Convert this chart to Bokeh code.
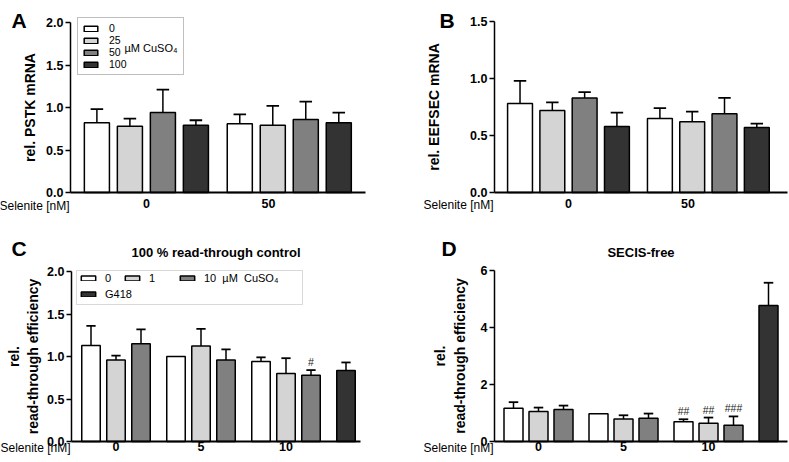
from bokeh.plotting import figure
from bokeh.models import (ColumnDataSource, Label, Legend, LegendItem, FixedTicker,
                          NumeralTickFormatter, Range1d, BoxAnnotation)
from bokeh.layouts import column, row
from bokeh.embed import file_html
from bokeh.resources import INLINE
from bokeh.core.properties import value

FONT = "Liberation Sans"

# ---------------- data ----------------
# Panel A: rel. PSTK mRNA (series = µM CuSO4, values per selenite group)
ab_selenite = ["0", "50"]
ab_cuso4 = ["0", "25", "50", "100"]
pstk_mean = {"0": [0.82, 0.81], "25": [0.78, 0.79], "50": [0.94, 0.86], "100": [0.79, 0.82]}
pstk_sd = {"0": [0.16, 0.11], "25": [0.09, 0.23], "50": [0.27, 0.21], "100": [0.06, 0.12]}
# Panel B: rel. EEFSEC mRNA
eefsec_mean = {"0": [0.78, 0.65], "25": [0.72, 0.62], "50": [0.83, 0.69], "100": [0.58, 0.57]}
eefsec_sd = {"0": [0.20, 0.09], "25": [0.07, 0.09], "50": [0.05, 0.14], "100": [0.12, 0.035]}
# Panel C: 100 % read-through control
cd_selenite = ["0", "5", "10"]
cd_cuso4 = ["0", "1", "10"]
ctrl_mean = {"0": [1.13, 1.00, 0.94], "1": [0.96, 1.125, 0.80], "10": [1.15, 0.96, 0.78]}
ctrl_sd = {"0": [0.23, 0.0, 0.05], "1": [0.05, 0.20, 0.18], "10": [0.17, 0.125, 0.06]}
ctrl_sig = {"0": ["", "", ""], "1": ["", "", ""], "10": ["", "", "#"]}
ctrl_g418_mean = [0.835]
ctrl_g418_sd = [0.095]
# Panel D: SECIS-free
secis_mean = {"0": [1.17, 0.97, 0.69], "1": [1.05, 0.79, 0.64], "10": [1.12, 0.82, 0.57]}
secis_sd = {"0": [0.21, 0.0, 0.09], "1": [0.14, 0.13, 0.20], "10": [0.14, 0.16, 0.31]}
secis_sig = {"0": ["", "", "##"], "1": ["", "", "##"], "10": ["", "", "###"]}
secis_g418_mean = [4.77]
secis_g418_sd = [0.80]

a_yticks = [0, 0.5, 1.0, 1.5, 2.0]
b_yticks = [0, 0.5, 1.0, 1.5]
c_yticks = [0, 0.5, 1.0, 1.5, 2.0]
d_yticks = [0, 2, 4, 6]

fills4 = ["#ffffff", "#d4d4d4", "#808080", "#333333"]
g418_fill = "#333333"


# ---------------- helpers ----------------
class Geo:
    def __init__(self, fw, fh, axl, axr, axt, axb, xlim, ymax):
        self.fw, self.fh = fw, fh
        self.ppx = (axr - axl) / (xlim[1] - xlim[0])
        self.ppy = (axb - axt) / ymax
        self.x_start = xlim[0] - axl / self.ppx
        self.x_end = xlim[0] + (fw - axl) / self.ppx
        self.y_start = -(fh - axb) / self.ppy
        self.y_end = ymax + axt / self.ppy
        self.xlim, self.ymax = xlim, ymax

    def dx(self, px):
        return self.x_start + px / self.ppx

    def dy(self, py):
        return self.y_end - py / self.ppy


def make_fig(g):
    p = figure(width=g.fw, height=g.fh,
               x_range=Range1d(g.x_start, g.x_end), y_range=Range1d(g.y_start, g.y_end),
               output_backend="svg", toolbar_location=None,
               min_border=0, min_border_left=0, min_border_right=0,
               min_border_top=0, min_border_bottom=0)
    p.outline_line_color = None
    p.xgrid.visible = False
    p.ygrid.visible = False
    p.background_fill_color = "white"
    p.border_fill_color = "white"
    p.title.text = ""
    p.title.visible = False
    return p


def style_axes(p, g, yticks, yfmt, xticks, xlabels, ylabel, ylab_standoff, xlab_standoff):
    ya = p.yaxis[0]
    ya.fixed_location = g.xlim[0]
    ya.bounds = (0, g.ymax)
    ya.ticker = FixedTicker(ticks=yticks)
    ya.formatter = NumeralTickFormatter(format=yfmt)
    ya.major_label_text_font = FONT
    ya.major_label_text_font_style = "bold"
    ya.major_label_text_font_size = "12.5px"
    ya.major_label_text_color = "black"
    ya.major_label_standoff = 2
    ya.major_tick_out = 5
    ya.major_tick_in = 0
    ya.major_tick_line_width = 1.5
    ya.major_tick_line_color = "black"
    ya.minor_tick_out = 0
    ya.minor_tick_in = 0
    ya.axis_line_width = 1.5
    ya.axis_line_color = "black"
    ya.axis_label = ylabel
    ya.axis_label_text_font = FONT
    ya.axis_label_text_font_style = "bold"
    ya.axis_label_text_font_size = "14px"
    ya.axis_label_text_color = "black"
    ya.axis_label_standoff = ylab_standoff

    xa = p.xaxis[0]
    xa.fixed_location = 0
    xa.bounds = g.xlim
    xa.ticker = FixedTicker(ticks=xticks)
    xa.major_label_overrides = {t: l for t, l in zip(xticks, xlabels)}
    xa.major_label_text_font = FONT
    xa.major_label_text_font_style = "bold"
    xa.major_label_text_font_size = "12.5px"
    xa.major_label_text_color = "black"
    xa.major_label_standoff = xlab_standoff
    xa.major_tick_out = 0
    xa.major_tick_in = 0
    xa.minor_tick_out = 0
    xa.minor_tick_in = 0
    xa.axis_line_width = 2
    xa.axis_line_color = "black"


def add_series(p, xs, means, sds, fill, bw, sig=None):
    src = ColumnDataSource(dict(x=xs, top=means))
    r = p.vbar(x="x", top="top", width=bw, bottom=0, fill_color=fill,
               line_color="black", line_width=1.5, source=src)
    ex, ey0, ey1 = [], [], []
    for x, m, s in zip(xs, means, sds):
        if s > 0:
            ex.append(x)
            ey0.append(m)
            ey1.append(m + s)
    cap = bw * 0.25
    esrc = ColumnDataSource(dict(x=ex, y0=ey0, y1=ey1,
                                 xl=[x - cap for x in ex], xr=[x + cap for x in ex]))
    p.segment(x0="x", y0="y0", x1="x", y1="y1", line_color="black", line_width=1.5, source=esrc)
    p.segment(x0="xl", y0="y1", x1="xr", y1="y1", line_color="black", line_width=1.8, source=esrc)
    if sig is not None:
        tx, ty, tt = [], [], []
        for x, m, s, t in zip(xs, means, sds, sig):
            if t:
                tx.append(x)
                ty.append(m + s)
                tt.append(t)
        tsrc = ColumnDataSource(dict(x=tx, y=ty, t=tt))
        p.text(x="x", y="y", text="t", source=tsrc, y_offset=-2, text_align="center",
               text_baseline="bottom", text_font=value(FONT), text_font_size=value("10.5px"),
               text_color="#222222")
    return r


def px_label(p, g, px, py, text, size, style="normal", align="left", baseline="alphabetic"):
    lab = Label(x=g.dx(px), y=g.dy(py), text=text, text_font=FONT, text_font_size=size,
                text_font_style=style, text_align=align, text_baseline=baseline,
                text_color="black")
    p.add_layout(lab)


def legend_style():
    return dict(label_text_font=FONT, label_text_color="black", margin=0,
                border_line_color=None, background_fill_alpha=0.0)


# ---------------- layout constants ----------------
W_L, W_R = 398, 391
H_T, H_B = 231, 231
ab_group_start = [0.0, 4.33]
ab_xticks = [1.5, 5.2]
cd_group_start = [0.0, 3.4, 6.8]
cd_g418_x = [10.2]
cd_xticks = [gs + 1 for gs in cd_group_start]

# ---------------- Panel A ----------------
gA = Geo(W_L, H_T, 70, 365, 22, 192, (-0.8, 8.14), 2.0)
pA = make_fig(gA)
style_axes(pA, gA, a_yticks, "0.0", ab_xticks, ab_selenite, "rel. PSTK mRNA", 5, 6)
rA = []
for i, c in enumerate(ab_cuso4):
    xs = [gs + i for gs in ab_group_start]
    rA.append(add_series(pA, xs, pstk_mean[c], pstk_sd[c], fills4[i], 0.76))
legA = Legend(items=[LegendItem(label=c, renderers=[r]) for c, r in zip(ab_cuso4, rA)],
              location=(77, H_T - 22 - 53), orientation="vertical",
              glyph_width=17, glyph_height=7, label_standoff=10, spacing=0, padding=4, margin=0,
              label_height=10, label_width=70,
              label_text_font=FONT, label_text_font_size="10.5px", label_text_color="black",
              border_line_color="#808080", border_line_width=1,
              background_fill_alpha=0.0)
pA.add_layout(legA)
px_label(pA, gA, 124, 47, "µM CuSO₄", "11px", baseline="middle")
px_label(pA, gA, 69, 205, "Selenite [nM]", "12px", align="right", baseline="middle")
px_label(pA, gA, 11, 20, "A", "21px", style="bold")

# ---------------- Panel B ----------------
gB = Geo(W_R, H_T, 96, 389, 21, 192, (-0.79, 8.28), 1.5)
pB = make_fig(gB)
style_axes(pB, gB, b_yticks, "0.0", ab_xticks, ab_selenite, "rel. EEFSEC mRNA", 25, 6)
for i, c in enumerate(ab_cuso4):
    xs = [gs + i for gs in ab_group_start]
    add_series(pB, xs, eefsec_mean[c], eefsec_sd[c], fills4[i], 0.77)
px_label(pB, gB, 95, 204, "Selenite [nM]", "12px", align="right", baseline="middle")
px_label(pB, gB, 41, 20, "B", "21px", style="bold")

# ---------------- Panel C ----------------
gC = Geo(W_L, H_B, 71, 360, 40, 210, (-0.78, 10.78), 2.0)
pC = make_fig(gC)
style_axes(pC, gC, c_yticks, "0.0", cd_xticks, cd_selenite, "rel.\nread-through efficiency", 3, 0)
rC = []
for i, c in enumerate(cd_cuso4):
    xs = [gs + i for gs in cd_group_start]
    rC.append(add_series(pC, xs, ctrl_mean[c], ctrl_sd[c], fills4[i], 0.74, ctrl_sig[c]))
rC.append(add_series(pC, cd_g418_x, ctrl_g418_mean, ctrl_g418_sd, g418_fill, 0.74))
boxC = BoxAnnotation(left=gC.dx(76), right=gC.dx(302), top=gC.dy(39), bottom=gC.dy(73),
                     fill_color="white", fill_alpha=1.0, line_color="#808080", line_width=1)
pC.add_layout(boxC)
legC_labels = ["0", "1", "10  µM  CuSO₄", "G418"]
legC_pos = [(79, H_B - 53), (123, H_B - 53), (178, H_B - 53), (79, H_B - 69)]
for lab, r, loc in zip(legC_labels, rC, legC_pos):
    lg = Legend(items=[LegendItem(label=lab, renderers=[r])], location=loc,
                glyph_width=18, glyph_height=6, label_standoff=8, spacing=0, padding=0,
                label_height=10, label_text_font_size="11px", **legend_style())
    pC.add_layout(lg)
px_label(pC, gC, 215.5, 21, "100 % read-through control", "13px", style="bold",
         align="center", baseline="middle")
px_label(pC, gC, 70, 216, "Selenite [nM]", "12px", align="right", baseline="middle")
px_label(pC, gC, 11, 17, "C", "21px", style="bold")

# ---------------- Panel D ----------------
gD = Geo(W_R, H_B, 96, 389, 39, 210, (-0.76, 10.96), 6.0)
pD = make_fig(gD)
style_axes(pD, gD, d_yticks, "0", cd_xticks, cd_selenite, "rel.\nread-through efficiency", 10, 0)
for i, c in enumerate(cd_cuso4):
    xs = [gs + i for gs in cd_group_start]
    add_series(pD, xs, secis_mean[c], secis_sd[c], fills4[i], 0.76, secis_sig[c])
add_series(pD, cd_g418_x, secis_g418_mean, secis_g418_sd, g418_fill, 0.76)
px_label(pD, gD, 242.5, 21, "SECIS-free", "13px", style="bold", align="center", baseline="middle")
px_label(pD, gD, 95, 216, "Selenite [nM]", "12px", align="right", baseline="middle")
px_label(pD, gD, 43, 17, "D", "21px", style="bold")

layout = column(row(pA, pB), row(pC, pD))
open("out.html", "w").write(file_html(layout, INLINE))
